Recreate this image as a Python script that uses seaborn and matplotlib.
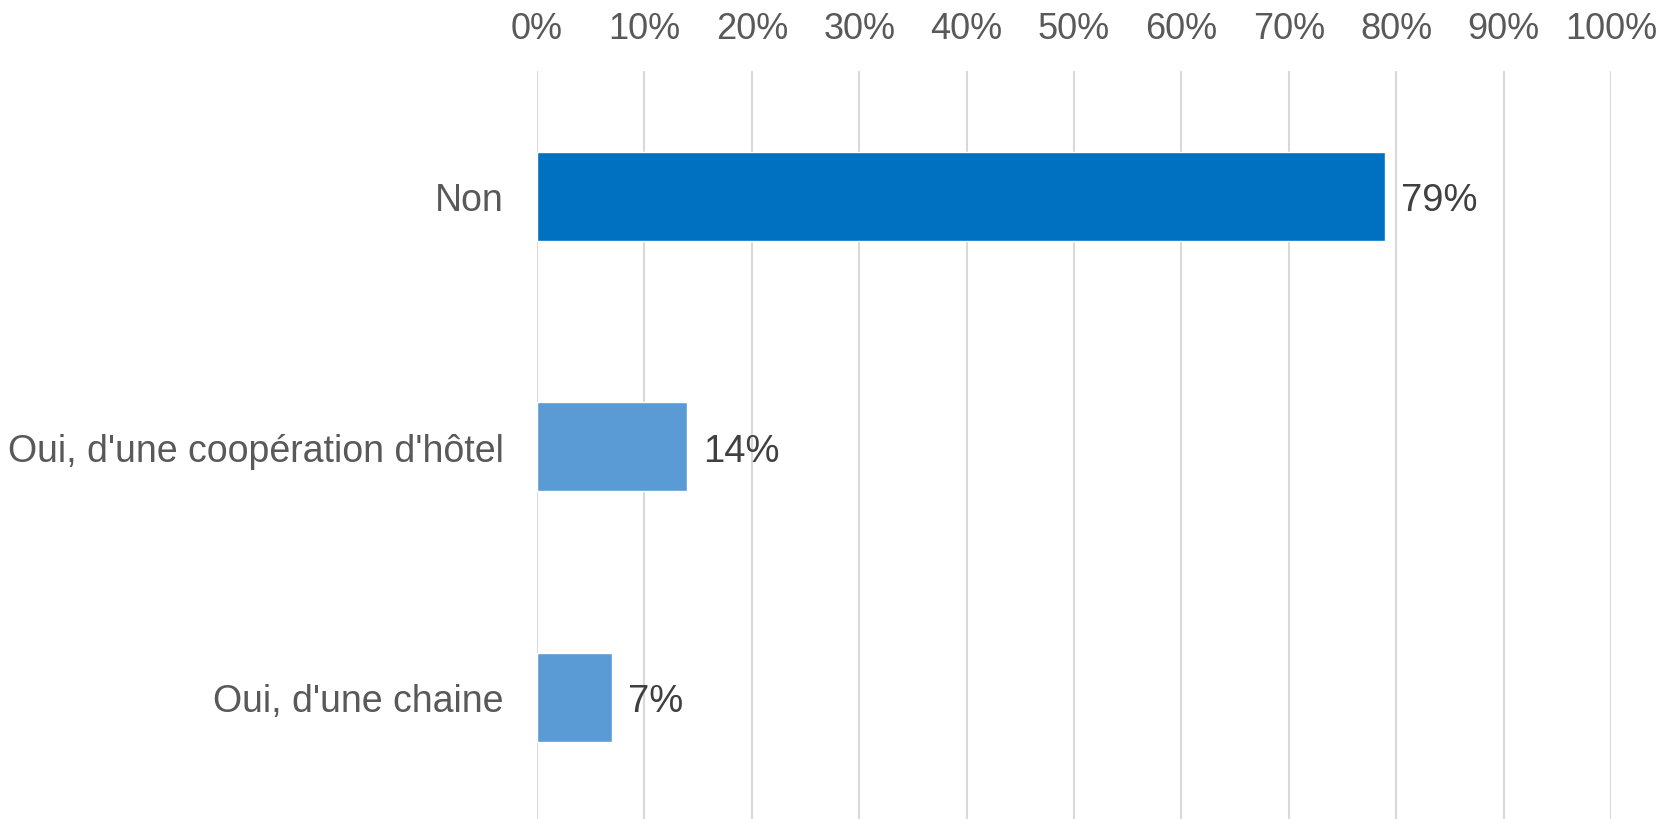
import matplotlib
matplotlib.use("Agg")
import matplotlib.pyplot as plt
import seaborn as sns
import pandas as pd

categories = ["Non", "Oui, d'une coopération d'hôtel", "Oui, d'une chaine"]
values = [79, 14, 7]
value_labels = ["79%", "14%", "7%"]
bar_colors = ["#0070C0", "#5B9BD5", "#5B9BD5"]
x_ticks = [0, 10, 20, 30, 40, 50, 60, 70, 80, 90, 100]
x_tick_labels = [f"{t}%" for t in x_ticks]

sns.set_theme(style="white")
plt.rcParams["font.family"] = ["Liberation Sans", "DejaVu Sans"]

df = pd.DataFrame({"cat": categories, "val": values})

fig = plt.figure(figsize=(16.76, 8.20), dpi=100)
ax = fig.add_axes([0.3204, -0.004, 0.6408, 0.9162])

sns.barplot(data=df, x="val", y="cat", hue="cat", palette=bar_colors,
            width=0.355, legend=False, ax=ax, zorder=3, saturation=1)

ax.set_xlim(0, 100)
ax.set_ylim(2.5, -0.5)
ax.set_xticks(x_ticks)
ax.set_xticklabels(x_tick_labels)
ax.xaxis.tick_top()
ax.grid(axis="x", color="#D9D9D9", linewidth=1.5, zorder=0)
ax.grid(axis="y", visible=False)
for s in ax.spines.values():
    s.set_visible(False)
ax.set_xlabel("")
ax.set_ylabel("")
ax.tick_params(axis="x", length=0, pad=18, labelsize=26, colors="#595959")
ax.tick_params(axis="y", length=0, pad=24, labelsize=27, colors="#595959")

for i, (v, lab) in enumerate(zip(values, value_labels)):
    ax.annotate(lab, xy=(v, i), xytext=(11.5, -3), textcoords="offset points",
                va="center", ha="left", fontsize=27.5, color="#404040")

fig.savefig("out.png", dpi=100)
